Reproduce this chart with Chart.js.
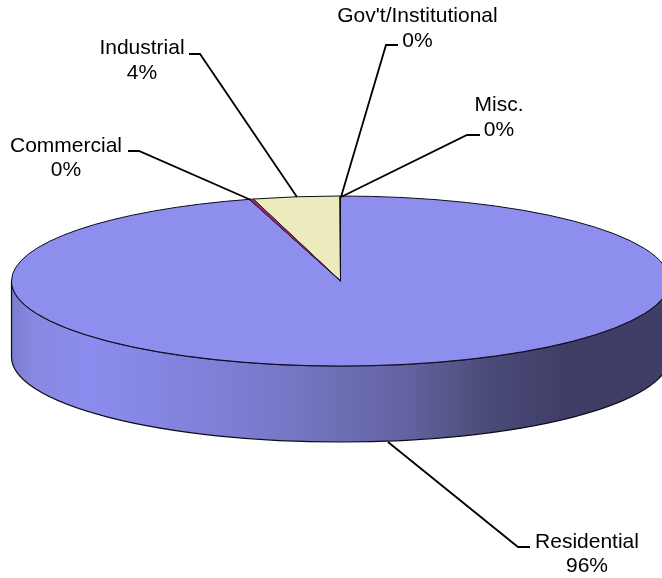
<!DOCTYPE html>
<html>
<head>
<meta charset="utf-8">
<script src="https://cdn.jsdelivr.net/npm/chart.js@4"></script>
<style>html,body{margin:0;padding:0;background:#fff}canvas{display:block}</style>
</head>
<body>
<canvas id="c" width="662" height="578"></canvas>
<script>
const categories = ["Residential", "Commercial", "Industrial", "Gov't/Institutional", "Misc."];
const shares = [95.55, 0.2, 4.25, 0.01, 0.01];
const sliceColors = ["#8e8eee", "#8a2a60", "#ecebbd", "#8e8eee", "#8e8eee"];

const SQUASH = 85 / 329;
const DEPTH = 76;
const OUTLINE = "#0c0c18";
const FONT = '21px "Liberation Sans", Arial, sans-serif';
const wallStops = [
  [0, "#7a7acc"], [0.03, "#8888e2"], [0.12, "#8c8cee"], [0.21, "#8686e4"], [0.39, "#7a7acc"], [0.5, "#6e6eb4"],
  [0.59, "#6464a4"], [0.7, "#50507e"], [0.73, "#4a4a78"], [0.85, "#3f3d66"], [1, "#403e68"]
];
// Callout layout, same order as categories: label centre x, first-line centre y, leader polyline
const callouts = [
  {x: 587, y: 542, line: [[530,547],[518,547],[388,442]]},
  {x: 66,  y: 146, line: [[128,151],[139,151],[251,200]]},
  {x: 142, y: 48,  line: [[189,54],[200,54],[297,197]]},
  {x: 417.5, y: 16, line: [[398,45],[386,45],[341,197]]},
  {x: 499, y: 105, line: [[480,135],[467,135],[341,197]]}
];
const percentOffsetY = [24, 24, 25, 25, 25];

const pie3d = {
  id: "pie3d",
  beforeDatasetsDraw(chart) {
    const ctx = chart.ctx;
    const arcs = chart.getDatasetMeta(0).data;
    const {x, y, outerRadius: r} = arcs[0].getProps(["x", "y", "outerRadius"], true);
    const ry = r * SQUASH;
    const g = ctx.createLinearGradient(x - r, 0, x + r, 0);
    wallStops.forEach(s => g.addColorStop(s[0], s[1]));
    ctx.save();
    ctx.beginPath();
    ctx.ellipse(x, y, r, ry, 0, Math.PI, 0, true);
    ctx.lineTo(x + r, y + DEPTH);
    ctx.ellipse(x, y + DEPTH, r, ry, 0, 0, Math.PI, false);
    ctx.closePath();
    ctx.fillStyle = g;
    ctx.fill();
    ctx.lineWidth = 1.2;
    ctx.strokeStyle = OUTLINE;
    ctx.stroke();
    ctx.restore();
    ctx.save();
    ctx.translate(x, y);
    ctx.scale(1, SQUASH);
    ctx.translate(-x, -y);
  },
  afterDatasetsDraw(chart) {
    const ctx = chart.ctx;
    ctx.restore();
    const arcs = chart.getDatasetMeta(0).data;
    // uniform-width outline around every slice of the flattened top
    arcs.forEach(a => {
      const p = a.getProps(["x", "y", "outerRadius", "startAngle", "endAngle"], true);
      ctx.save();
      ctx.translate(p.x, p.y);
      ctx.scale(1, SQUASH);
      ctx.beginPath();
      ctx.moveTo(0, 0);
      ctx.arc(0, 0, p.outerRadius, p.startAngle, p.endAngle);
      ctx.closePath();
      ctx.restore();
      ctx.lineWidth = 1;
      ctx.strokeStyle = OUTLINE;
      ctx.stroke();
    });
    // redraw the thin commercial sliver over its own outline
    const m = arcs[1].getProps(["x", "y", "outerRadius", "startAngle", "endAngle"], true);
    ctx.save();
    ctx.translate(m.x, m.y);
    ctx.scale(1, SQUASH);
    ctx.beginPath();
    ctx.moveTo(0, 0);
    ctx.arc(0, 0, m.outerRadius, m.startAngle, m.endAngle);
    ctx.closePath();
    ctx.fillStyle = sliceColors[1];
    ctx.fill();
    ctx.restore();
    // callouts
    const total = shares.reduce((a, b) => a + b, 0);
    ctx.save();
    ctx.font = FONT;
    ctx.fillStyle = "#000";
    ctx.textAlign = "center";
    ctx.textBaseline = "middle";
    ctx.strokeStyle = "#000";
    ctx.lineWidth = 1.8;
    categories.forEach((name, i) => {
      const c = callouts[i];
      ctx.beginPath();
      c.line.forEach((pt, k) => k ? ctx.lineTo(pt[0], pt[1]) : ctx.moveTo(pt[0], pt[1]));
      ctx.stroke();
      ctx.fillText(name, c.x, c.y);
      ctx.fillText(Math.round(shares[i] / total * 100) + "%", c.x, c.y + percentOffsetY[i]);
    });
    ctx.restore();
  }
};

new Chart(document.getElementById("c"), {
  type: "pie",
  data: {
    labels: categories,
    datasets: [{
      data: shares,
      backgroundColor: sliceColors,
      borderWidth: 0,
      radius: 329,
      clip: false
    }]
  },
  options: {
    responsive: false,
    animation: false,
    layout: {padding: {left: 19, right: 0, top: 0, bottom: 16}},
    plugins: {legend: {display: false}, tooltip: {enabled: false}}
  },
  plugins: [pie3d]
});
</script>
</body>
</html>
